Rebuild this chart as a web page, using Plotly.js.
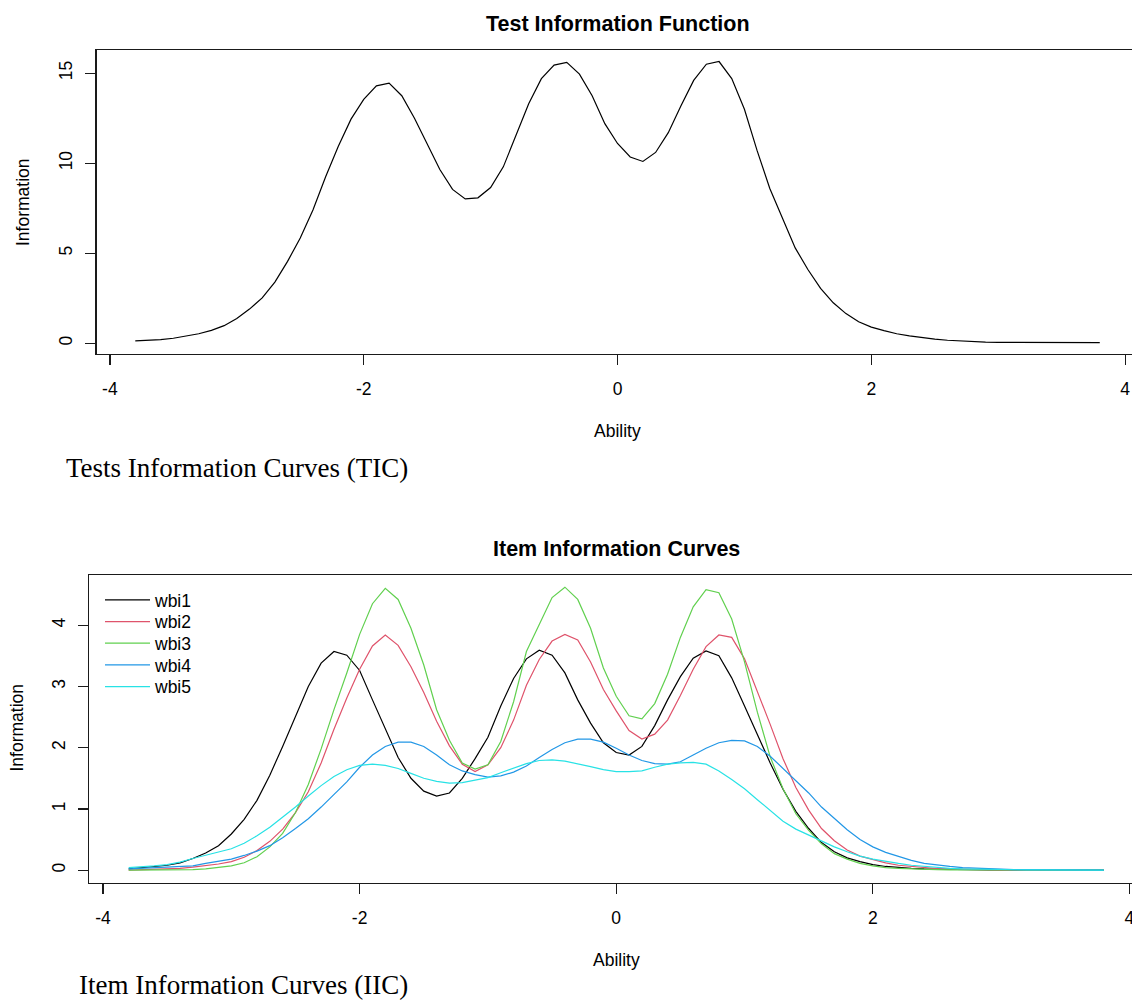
<!DOCTYPE html>
<html>
<head>
<meta charset="utf-8">
<script src="https://cdn.plot.ly/plotly-3.0.1.min.js"></script>
<style>
  html, body { margin: 0; padding: 0; background: #ffffff; }
  #chart { width: 1132px; height: 1001px; }
</style>
</head>
<body>
<div id="chart"></div>
<script>
// Ability grid
const ability = [-3.8,-3.7,-3.6,-3.5,-3.4,-3.3,-3.2,-3.1,-3.0,-2.9,-2.8,-2.7,-2.6,-2.5,-2.4,-2.3,-2.2,-2.1,-2.0,-1.9,-1.8,-1.7,-1.6,-1.5,-1.4,-1.3,-1.2,-1.1,-1.0,-0.9,-0.8,-0.7,-0.6,-0.5,-0.4,-0.3,-0.2,-0.1,0.0,0.1,0.2,0.3,0.4,0.5,0.6,0.7,0.8,0.9,1.0,1.1,1.2,1.3,1.4,1.5,1.6,1.7,1.8,1.9,2.0,2.1,2.2,2.3,2.4,2.5,2.6,2.7,2.8,2.9,3.0,3.1,3.2,3.3,3.4,3.5,3.6,3.7,3.8];

// Test information function
const testInfo = [0.13,0.16,0.20,0.28,0.40,0.53,0.72,0.98,1.38,1.90,2.52,3.40,4.55,5.85,7.40,9.25,10.95,12.45,13.55,14.30,14.45,13.75,12.50,11.05,9.65,8.55,8.02,8.08,8.65,9.80,11.50,13.30,14.70,15.45,15.60,14.95,13.75,12.20,11.10,10.35,10.10,10.60,11.70,13.20,14.60,15.50,15.65,14.70,13.00,10.70,8.60,6.90,5.30,4.10,3.05,2.25,1.65,1.20,0.90,0.70,0.53,0.41,0.31,0.23,0.17,0.12,0.08,0.06,0.05,0.05,0.04,0.04,0.04,0.04,0.04,0.04,0.04];

// Item information curves
const wbi1 = [0.02,0.04,0.06,0.08,0.12,0.19,0.28,0.40,0.59,0.83,1.14,1.55,2.02,2.50,3.00,3.38,3.57,3.51,3.26,2.78,2.30,1.84,1.50,1.29,1.21,1.26,1.50,1.82,2.17,2.68,3.13,3.45,3.59,3.51,3.22,2.78,2.40,2.08,1.92,1.88,2.02,2.36,2.78,3.16,3.46,3.58,3.50,3.14,2.68,2.20,1.75,1.32,0.96,0.68,0.45,0.30,0.20,0.14,0.09,0.06,0.04,0.03,0.02,0.015,0.01,0.01,0.005,0.005,0.004,0.003,0.002,0.002,0.001,0.001,0.001,0.001,0.001];
const wbi2 = [0.00,0.005,0.01,0.02,0.03,0.05,0.07,0.10,0.14,0.21,0.32,0.47,0.67,0.94,1.28,1.75,2.30,2.81,3.28,3.66,3.84,3.67,3.32,2.90,2.43,2.03,1.73,1.61,1.72,2.00,2.45,3.02,3.44,3.74,3.85,3.76,3.40,2.95,2.60,2.28,2.14,2.22,2.45,2.85,3.28,3.65,3.84,3.80,3.45,2.92,2.38,1.82,1.35,0.98,0.68,0.48,0.33,0.23,0.17,0.12,0.08,0.06,0.04,0.025,0.018,0.012,0.008,0.006,0.004,0.003,0.002,0.002,0.001,0.001,0.001,0.001,0.001];
const wbi3 = [0.00,0.00,0.005,0.005,0.01,0.01,0.02,0.04,0.07,0.12,0.22,0.38,0.60,0.94,1.40,1.98,2.62,3.22,3.85,4.35,4.60,4.42,3.95,3.35,2.62,2.12,1.75,1.65,1.72,2.10,2.75,3.57,4.02,4.45,4.62,4.42,3.95,3.30,2.84,2.52,2.47,2.72,3.20,3.80,4.30,4.58,4.53,4.10,3.40,2.58,1.85,1.33,0.92,0.65,0.43,0.27,0.18,0.11,0.07,0.04,0.03,0.02,0.01,0.008,0.005,0.003,0.002,0.002,0.001,0.001,0.001,0.001,0.001,0.001,0.001,0.001,0.001];
const wbi4 = [0.02,0.03,0.035,0.04,0.05,0.07,0.11,0.14,0.18,0.24,0.31,0.40,0.53,0.68,0.84,1.03,1.23,1.44,1.68,1.88,2.02,2.09,2.09,2.02,1.88,1.72,1.62,1.56,1.52,1.54,1.60,1.70,1.84,1.97,2.08,2.14,2.14,2.09,1.99,1.88,1.79,1.74,1.73,1.77,1.88,1.99,2.08,2.12,2.11,2.02,1.86,1.66,1.46,1.26,1.03,0.84,0.66,0.50,0.38,0.29,0.22,0.16,0.11,0.08,0.06,0.04,0.03,0.02,0.015,0.01,0.008,0.006,0.004,0.003,0.002,0.002,0.001];
const wbi5 = [0.04,0.05,0.07,0.09,0.13,0.19,0.24,0.29,0.35,0.44,0.56,0.70,0.86,1.03,1.21,1.38,1.53,1.64,1.71,1.73,1.71,1.66,1.58,1.50,1.45,1.42,1.43,1.47,1.51,1.59,1.67,1.74,1.79,1.80,1.78,1.74,1.69,1.64,1.61,1.61,1.62,1.68,1.73,1.75,1.76,1.73,1.62,1.48,1.33,1.15,0.97,0.80,0.67,0.57,0.48,0.38,0.30,0.23,0.18,0.14,0.11,0.08,0.06,0.04,0.03,0.02,0.015,0.01,0.008,0.006,0.004,0.003,0.002,0.002,0.001,0.001,0.001];

const itemNames = ["wbi1","wbi2","wbi3","wbi4","wbi5"];
const itemColors = ["#000000","#DF536B","#61D04F","#2297E6","#28E2E5"];
const xTicks = [-4,-2,0,2,4];
const yTicksTop = [0,5,10,15];
const yTicksBottom = [0,1,2,3,4];

const W = 1132, H = 1001;
const px = v => v / W;
const py = v => 1 - v / H;

const sans = "Liberation Sans, Arial, Helvetica, sans-serif";
const serif = "Liberation Serif, Times New Roman, serif";
const tickFont = {family: sans, size: 17.5, color: "#000000"};

const traces = [{
  x: ability, y: testInfo, type: "scatter", mode: "lines",
  line: {color: "#000000", width: 1.2}, xaxis: "x", yaxis: "y",
  showlegend: false, hoverinfo: "skip"
}];
const itemData = [wbi1, wbi2, wbi3, wbi4, wbi5];
const legendIds = ["legend", "legend2", "legend3", "legend4", "legend5"];
itemData.forEach((vals, i) => {
  traces.push({
    x: ability, y: vals, type: "scatter", mode: "lines",
    name: itemNames[i], line: {color: itemColors[i], width: 1.2},
    xaxis: "x2", yaxis: "y2", showlegend: true, legend: legendIds[i]
  });
});

const axisCommon = {
  showgrid: false, zeroline: false, showline: true, linecolor: "#1a1a1a", linewidth: 1.3,
  ticks: "outside", ticklen: 10, tickwidth: 1.2, tickcolor: "#1a1a1a",
  tickfont: tickFont, tickmode: "array", fixedrange: true, ticklabeloverflow: "allow"
};

const layout = {
  width: W, height: H,
  margin: {l: 0, r: 0, t: 0, b: 0, pad: 0},
  paper_bgcolor: "#ffffff", plot_bgcolor: "#ffffff",
  showlegend: true,
  xaxis: Object.assign({}, axisCommon, {
    domain: [px(96.7), 1], range: [-4.104, 4.054], mirror: true,
    tickvals: xTicks, ticktext: xTicks.map(String), ticklabelstandoff: 9, anchor: "y"
  }),
  yaxis: Object.assign({}, axisCommon, {
    domain: [py(354), py(50)], range: [-0.594, 16.29],
    tickvals: yTicksTop, ticktext: yTicksTop.map(String), tickangle: -90,
    ticklabelstandoff: 6, anchor: "x"
  }),
  xaxis2: Object.assign({}, axisCommon, {
    domain: [px(89.3), 1], range: [-4.107, 4.02], mirror: true,
    tickvals: xTicks, ticktext: xTicks.map(String), ticklabelstandoff: 9, anchor: "y2"
  }),
  yaxis2: Object.assign({}, axisCommon, {
    domain: [py(882.7), py(575)], range: [-0.205, 4.819],
    tickvals: yTicksBottom, ticktext: yTicksBottom.map(String), tickangle: -90,
    ticklabelstandoff: 6, anchor: "x2"
  }),
  annotations: [
    {text: "<b>Test Information Function</b>", xref: "x", yref: "paper", x: 0, y: py(24),
     xanchor: "center", yanchor: "middle", showarrow: false, font: {family: sans, size: 21.5, color: "#000000"}},
    {text: "<b>Item Information Curves</b>", xref: "x2", yref: "paper", x: 0, y: py(549),
     xanchor: "center", yanchor: "middle", showarrow: false, font: {family: sans, size: 21.5, color: "#000000"}},
    {text: "Ability", xref: "x", yref: "paper", x: 0, y: py(431),
     xanchor: "center", yanchor: "middle", showarrow: false, font: {family: sans, size: 17.5, color: "#000000"}},
    {text: "Ability", xref: "x2", yref: "paper", x: 0, y: py(960),
     xanchor: "center", yanchor: "middle", showarrow: false, font: {family: sans, size: 17.5, color: "#000000"}},
    {text: "Information", xref: "paper", yref: "paper", x: px(23), y: py(202), textangle: -90,
     xanchor: "center", yanchor: "middle", showarrow: false, font: {family: sans, size: 17.5, color: "#000000"}},
    {text: "Information", xref: "paper", yref: "paper", x: px(16.5), y: py(728), textangle: -90,
     xanchor: "center", yanchor: "middle", showarrow: false, font: {family: sans, size: 17.5, color: "#000000"}},
    {text: "Tests Information Curves (TIC)", xref: "paper", yref: "paper", x: px(64), y: py(468),
     xanchor: "left", yanchor: "middle", showarrow: false, font: {family: serif, size: 27, color: "#000000"}},
    {text: "Item Information Curves (IIC)", xref: "paper", yref: "paper", x: px(77), y: py(985),
     xanchor: "left", yanchor: "middle", showarrow: false, font: {family: serif, size: 27, color: "#000000"}}
  ]
};

// One legend box per item so the rows sit at the reference spacing
const legendRowY = [600, 621.7, 643.3, 665, 686.7];
legendIds.forEach((id, i) => {
  layout[id] = {
    x: px(100), y: py(legendRowY[i]), xanchor: "left", yanchor: "middle",
    bgcolor: "rgba(0,0,0,0)", borderwidth: 0,
    font: {family: sans, size: 17.5, color: "#000000"},
    itemwidth: 45, tracegroupgap: 0
  };
});

Plotly.newPlot("chart", traces, layout, {displayModeBar: false, staticPlot: true});
</script>
</body>
</html>
